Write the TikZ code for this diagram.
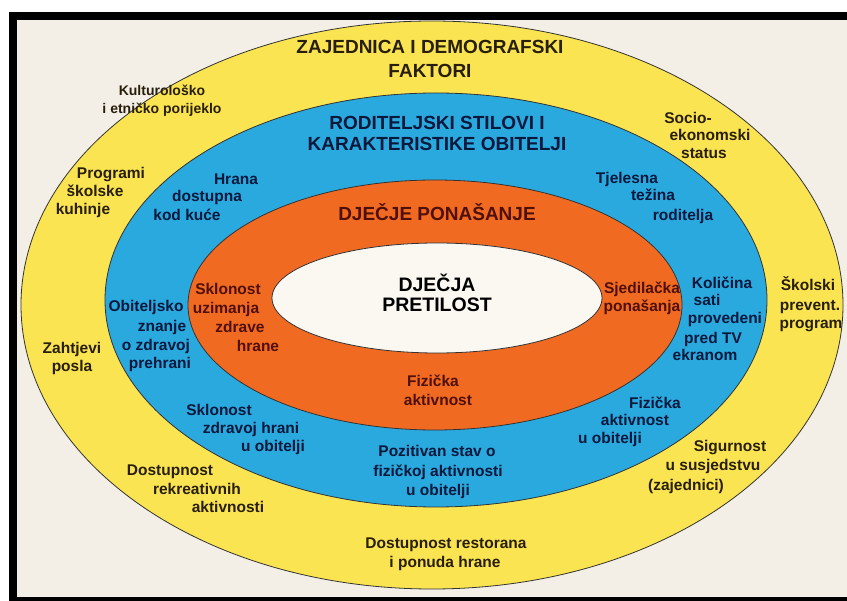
\documentclass[tikz,border=0pt]{standalone}
\usepackage{fontspec}
\setmainfont{Liberation Sans}
\usepackage{xcolor}
\usepackage{tikz}
\usetikzlibrary{positioning, calc}

\definecolor{paper}{RGB}{243,239,231}
\definecolor{ringyellow}{RGB}{250,228,82}
\definecolor{ringblue}{RGB}{42,169,222}
\definecolor{ringorange}{RGB}{241,106,34}
\definecolor{innerwhite}{RGB}{251,248,242}
\definecolor{txtbrown}{RGB}{40,30,12}
\definecolor{txtnavy}{RGB}{10,24,60}
\definecolor{txtred}{RGB}{80,16,10}

\begin{document}
\begin{tikzpicture}[x=1pt, y=-1pt,
    lbl/.style={inner sep=0pt, text height=0.72em, text depth=0pt, font=\bfseries\fontsize{15.5}{18}\selectfont},
    head/.style={lbl, font=\bfseries\fontsize{19}{21}\selectfont},
    ytxt/.style={lbl, text=txtbrown},
    btxt/.style={lbl, text=txtnavy},
    otxt/.style={lbl, text=txtred},
    ring/.style={draw=black!80, line width=0.8pt}]
    \useasboundingbox (0,0) rectangle (847,601);

    % Scan frame
    \fill[white] (0,0) rectangle (847,601);
    \fill[black] (9,12) rectangle (847,601);
    \fill[paper] (17,20) rectangle (847,597);

    % Rings, from the outside in
    \filldraw[ring, fill=ringyellow] (432,305) ellipse [x radius=411pt, y radius=284pt];
    \filldraw[ring, fill=ringblue] (436,300) ellipse [x radius=331pt, y radius=207pt];
    \filldraw[ring, fill=ringorange] (435,305) ellipse [x radius=247pt, y radius=125pt];
    \filldraw[ring, fill=innerwhite] (437,298) ellipse [x radius=165pt, y radius=55pt];

    % Outer ring: community
    \node[head, text=txtbrown] (zaj1) at (430,50) {ZAJEDNICA I DEMOGRAFSKI};
    \node[head, text=txtbrown] (zaj2) at (430,74) {FAKTORI};
    \node[ytxt, font=\bfseries\fontsize{14}{16}\selectfont] (kul1) at (162,92) {Kulturološko};
    \node[ytxt, font=\bfseries\fontsize{14}{16}\selectfont] (kul2) at (162,110) {i etničko porijeklo};
    \foreach \t/\x/\y [count=\i] in {Socio-/688/120, ekonomski/710/137, status/704/155,
        Programi/111/175, školske/95/193, kuhinje/83/211,
        Zahtjevi/72/350, posla/72/368,
        Školski/808/287, prevent./810/307, program/811/325,
        Dostupnost/170/472, rekreativnih/197/491, aktivnosti/228/509,
        Sigurnost/730/448, u susjedstvu/713/467, (zajednici)/686/487,
        Dostupnost restorana/446/545, i ponuda hrane/445/564}
        \node[ytxt] (y\i) at (\x,\y) {\t};

    % Middle ring: family
    \node[head, text=txtnavy] (rod1) at (437,126) {RODITELJSKI STILOVI I};
    \node[head, text=txtnavy] (rod2) at (437,147) {KARAKTERISTIKE OBITELJI};
    \foreach \t/\x/\y [count=\i] in {Hrana/236/181, dostupna/207/198, kod kuće/187/217,
        Tjelesna/627/180, težina/653/197, roditelja/683/217,
        Obiteljsko/146/308, znanje/162/328, o zdravoj/156/347, prehrani/160/365,
        Količina/722/285, sati/707/302, provedeni/725/320, pred TV/713/340, ekranom/705/357,
        Sklonost/219/412, zdravoj hrani/251/430, u obitelji/273/448,
        Pozitivan stav o/437/453, fizičkoj aktivnosti/438/473, u obitelji/438/492,
        Fizička/655/405, aktivnost/635/422, u obitelji/610/440}
        \node[btxt] (b\i) at (\x,\y) {\t};

    % Inner ring: behaviour
    \node[head, text=txtred] (pon) at (437,217) {DJEČJE PONAŠANJE};
    \foreach \t/\x/\y [count=\i] in {Sklonost/228/291, uzimanja/226/310, zdrave/240/329, hrane/258/348,
        Sjedilačka/642/290, ponašanja/642/308,
        Fizička/433/383, aktivnost/438/402}
        \node[otxt] (o\i) at (\x,\y) {\t};

    % Centre
    \node[head, font=\bfseries\fontsize{19.5}{21}\selectfont] (pre1) at (437,288) {DJEČJA};
    \node[head, font=\bfseries\fontsize{19.5}{21}\selectfont] (pre2) at (437,308) {PRETILOST};
\end{tikzpicture}
\end{document}
